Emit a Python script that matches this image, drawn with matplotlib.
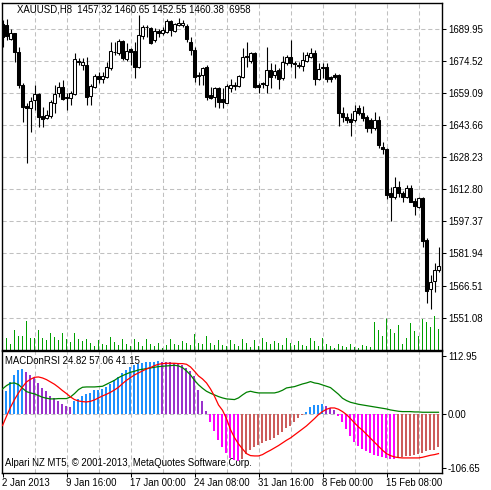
import matplotlib
matplotlib.use("Agg")
import matplotlib.pyplot as plt
import numpy as np

# ---------------- data ----------------
opens = [1692.12, 1691.63, 1684.75, 1687.63, 1678.83, 1662.82, 1652.74, 1651.62, 1655.62, 1658.50,
         1647.94, 1646.82, 1647.94, 1654.34, 1659.14, 1661.70, 1657.22, 1656.42, 1658.50, 1674.51,
         1672.43, 1672.43, 1657.54, 1661.70, 1667.14, 1665.70, 1666.82, 1671.15, 1678.83, 1678.03,
         1683.95, 1675.31, 1679.95, 1679.15, 1671.63, 1686.51, 1690.51, 1690.35, 1684.43, 1688.91,
         1687.63, 1688.43, 1693.72, 1688.91, 1691.63, 1691.63, 1691.15, 1683.63, 1679.63, 1666.98,
         1667.62, 1671.31, 1658.02, 1657.22, 1661.22, 1655.94, 1654.34, 1661.22, 1662.34, 1662.34,
         1666.82, 1676.75, 1674.35, 1678.35, 1662.82, 1663.94, 1662.82, 1670.03, 1667.62, 1670.03,
         1666.02, 1673.55, 1676.43, 1673.55, 1672.43, 1671.95, 1674.51, 1676.43, 1678.03, 1665.70,
         1671.63, 1671.63, 1666.82, 1667.62, 1667.62, 1649.22, 1647.62, 1646.50, 1646.02, 1651.62,
         1649.22, 1647.30, 1646.02, 1642.33, 1646.02, 1633.21, 1631.93, 1611.12, 1609.20, 1613.68,
         1611.12, 1608.88, 1613.20, 1607.12, 1604.08, 1608.40, 1588.39, 1564.70, 1568.70, 1574.00]
highs = [1694.04, 1694.36, 1689.55, 1687.95, 1681.23, 1663.62, 1654.02, 1657.22, 1662.82, 1658.82,
         1652.42, 1650.82, 1655.62, 1662.82, 1664.42, 1665.22, 1659.14, 1660.10, 1678.03, 1675.63,
         1675.63, 1676.43, 1663.30, 1668.10, 1669.22, 1669.22, 1674.03, 1683.63, 1683.63, 1684.75,
         1684.43, 1682.83, 1680.75, 1683.63, 1696.44, 1691.63, 1691.63, 1690.83, 1690.03, 1689.55,
         1690.51, 1694.52, 1694.04, 1692.76, 1694.84, 1694.04, 1691.96, 1685.71, 1681.23, 1669.22,
         1671.63, 1672.43, 1662.02, 1661.70, 1662.02, 1661.22, 1663.14, 1665.54, 1664.42, 1667.62,
         1680.43, 1683.63, 1678.83, 1678.83, 1663.94, 1664.42, 1681.23, 1673.23, 1672.91, 1670.83,
         1676.75, 1677.23, 1684.43, 1674.35, 1674.03, 1678.83, 1678.83, 1680.43, 1679.63, 1673.23,
         1673.55, 1673.23, 1667.14, 1668.74, 1668.10, 1652.10, 1649.54, 1649.22, 1653.22, 1653.22,
         1652.74, 1648.42, 1646.82, 1650.02, 1647.94, 1635.61, 1632.41, 1614.00, 1618.48, 1616.88,
         1612.08, 1614.80, 1614.80, 1608.40, 1609.20, 1609.20, 1589.19, 1571.58, 1577.18, 1584.87]
lows = [1681.23, 1684.43, 1684.43, 1674.03, 1661.22, 1645.22, 1625.21, 1640.41, 1650.82, 1642.49,
        1642.81, 1646.34, 1646.82, 1649.22, 1657.22, 1655.62, 1650.82, 1653.22, 1658.02, 1672.43,
        1670.03, 1653.22, 1653.22, 1661.22, 1663.62, 1663.94, 1666.02, 1670.03, 1677.23, 1677.23,
        1674.83, 1674.51, 1672.43, 1666.02, 1670.83, 1684.75, 1686.03, 1682.35, 1683.63, 1685.71,
        1686.83, 1687.95, 1686.35, 1688.43, 1691.15, 1690.83, 1683.63, 1677.23, 1664.42, 1662.82,
        1662.82, 1655.62, 1655.94, 1652.42, 1651.62, 1651.62, 1654.02, 1659.62, 1660.42, 1662.02,
        1666.02, 1671.63, 1673.23, 1661.22, 1658.82, 1661.22, 1659.14, 1661.22, 1666.02, 1660.74,
        1665.22, 1672.43, 1671.63, 1666.02, 1670.83, 1669.71, 1674.03, 1675.63, 1662.82, 1665.22,
        1666.02, 1664.42, 1664.42, 1665.70, 1643.13, 1645.22, 1644.42, 1638.33, 1645.22, 1648.42,
        1645.70, 1640.41, 1639.93, 1641.21, 1632.41, 1629.69, 1607.92, 1597.68, 1607.92, 1609.20,
        1606.80, 1608.40, 1606.48, 1600.39, 1603.60, 1584.87, 1558.30, 1555.10, 1563.58, 1573.18]
closes = [1686.03, 1686.35, 1687.63, 1678.83, 1662.82, 1652.42, 1651.62, 1655.14, 1658.34, 1647.62,
          1646.34, 1648.42, 1654.50, 1658.34, 1661.70, 1656.10, 1656.42, 1658.82, 1675.15, 1674.03,
          1673.71, 1657.22, 1662.34, 1667.14, 1665.70, 1667.14, 1671.31, 1679.15, 1678.51, 1684.11,
          1675.63, 1679.15, 1678.83, 1671.31, 1686.83, 1690.83, 1690.83, 1683.15, 1688.91, 1687.63,
          1689.23, 1693.72, 1689.23, 1692.12, 1692.44, 1692.44, 1684.75, 1679.63, 1666.50, 1667.62,
          1670.83, 1657.22, 1656.74, 1661.22, 1654.82, 1654.82, 1662.34, 1662.82, 1662.82, 1667.14,
          1676.43, 1676.11, 1678.35, 1662.02, 1661.70, 1663.30, 1670.03, 1666.50, 1669.71, 1665.70,
          1674.03, 1676.43, 1673.23, 1672.75, 1671.95, 1674.83, 1677.23, 1678.35, 1665.54, 1670.51,
          1670.83, 1665.70, 1665.70, 1666.82, 1649.22, 1647.30, 1646.02, 1645.22, 1650.34, 1649.22,
          1646.82, 1642.01, 1642.01, 1646.02, 1634.01, 1632.09, 1610.00, 1609.20, 1613.68, 1610.80,
          1609.20, 1613.20, 1606.80, 1604.72, 1608.40, 1588.07, 1564.06, 1568.38, 1574.00, 1575.90]
volumes = [3300, 4060, 2080, 6600, 4620, 4620, 9570, 4060, 4060, 6600,
           4060, 3300, 5610, 4290, 3300, 5610, 3630, 2640, 5610, 3630,
           2970, 3630, 2310, 1320, 3300, 1980, 1650, 4290, 2640, 1650,
           3630, 1980, 1320, 3630, 2640, 1320, 3630, 1980, 1320, 2310,
           660, 1650, 3630, 1980, 1650, 2970, 2310, 1650, 5280, 2310,
           1980, 4620, 2310, 1650, 3300, 1650, 1320, 3300, 1980, 1320,
           3630, 2310, 990, 3300, 1320, 3960, 2640, 1980, 2970, 2310,
           1650, 3960, 2310, 1650, 2970, 1650, 1320, 3960, 2970, 1320,
           3960, 1980, 1320, 660, 1980, 1320, 990, 1980, 990, 660,
           1650, 1320, 990, 9240, 6600, 4620, 10560, 6930, 5610, 8250,
           1980, 3960, 8910, 6270, 4620, 10230, 9240, 7590, 11220, 6930]

macd_hist = [28.0, 40.3, 57.1, 70.4, 79.2, 79.6, 74.6, 70.4, 64.3, 55.3,
             46.3, 40.3, 31.3, 28.3, 22.2, 18.0, 14.4, 12.0, 22.2, 26.5,
             31.3, 36.1, 37.3, 42.1, 43.3, 45.1, 48.1, 54.1, 60.1, 66.1,
             73.0, 79.4, 84.2, 87.2, 89.6, 91.4, 92.6, 93.2, 93.8, 94.1,
             93.8, 93.2, 92.6, 92.0, 89.5, 87.8, 83.0, 76.0, 67.0, 42.0,
             23.0, 4.0, -15.6, -31.9, -46.9, -60.1, -71.0, -81.0, -84.0, -85.5,
             -81.8, -72.2, -66.1, -60.7, -57.1, -53.5, -49.9, -46.9, -43.9, -38.5,
             -32.5, -26.5, -21.6, -15.0, -8.4, -3.0, 2.4, 12.0, 15.0, 16.2,
             16.8, 13.2, 10.2, 7.2, -3.6, -15.0, -28.3, -39.7, -50.5, -58.3,
             -63.1, -66.7, -70.9, -73.9, -76.3, -78.1, -79.9, -81.2, -82.4, -78.1,
             -77.5, -77.0, -75.8, -74.6, -72.8, -70.9, -67.9, -66.1, -64.9, -60.7]
green_line = [44.5, 50.5, 54.7, 55.3, 52.3, 45.7, 39.7, 37.3, 35.5, 32.5,
              29.5, 27.7, 26.5, 26.5, 27.1, 27.1, 27.1, 30.1, 36.1, 43.3,
              47.5, 48.1, 48.1, 48.1, 48.7, 49.3, 52.9, 56.5, 60.1, 64.9,
              68.5, 71.6, 74.6, 76.4, 78.8, 80.0, 81.2, 82.4, 83.6, 84.8,
              85.4, 86.0, 86.6, 87.2, 86.0, 83.0, 77.0, 69.8, 60.0, 52.0,
              45.7, 40.3, 36.7, 33.7, 30.7, 28.3, 26.5, 25.9, 25.3, 28.3,
              33.7, 38.5, 40.3, 38.5, 37.3, 37.3, 37.3, 37.3, 37.3, 39.1,
              42.1, 46.3, 47.5, 48.7, 51.1, 53.5, 55.3, 57.7, 55.3, 54.1,
              51.7, 49.3, 46.9, 40.9, 34.9, 27.7, 23.5, 20.4, 18.6, 16.8,
              15.6, 14.4, 13.2, 12.0, 10.8, 9.6, 8.4, 6.6, 5.4, 4.2,
              3.6, 3.6, 3.6, 3.0, 3.0, 2.4, 2.4, 2.4, 2.4, 2.4]
red_line = [-21.6, -4.8, 11.4, 25.3, 37.3, 48.1, 57.1, 61.9, 65.5, 66.1,
            64.3, 61.3, 57.1, 52.9, 47.5, 41.5, 36.1, 30.1, 25.3, 22.8,
            21.6, 21.0, 22.2, 24.7, 28.3, 31.9, 34.9, 38.5, 42.7, 47.5,
            54.1, 60.1, 64.9, 69.8, 73.4, 77.0, 80.6, 83.0, 86.6, 89.0,
            90.2, 90.8, 90.8, 90.8, 90.2, 90.2, 89.0, 84.2, 76.4, 68.0,
            62.5, 55.3, 44.5, 31.3, 15.6, 6.0, -9.0, -28.9, -43.3, -54.7,
            -63.7, -72.2, -75.8, -76.4, -76.4, -74.0, -69.8, -66.1, -61.9, -57.7,
            -52.9, -48.1, -43.9, -38.5, -33.1, -27.7, -22.2, -15.6, -9.0, -1.8,
            3.6, 7.8, 10.2, 10.2, 7.8, 3.6, -1.8, -9.0, -16.8, -24.1,
            -30.1, -37.3, -44.5, -51.7, -58.9, -66.1, -72.2, -75.8, -78.2, -79.4,
            -80.0, -80.0, -80.0, -80.0, -80.0, -78.8, -77.0, -75.2, -74.0, -72.2]

price_ticks = [1689.95, 1674.52, 1659.09, 1643.66, 1628.23, 1612.80, 1597.37, 1581.94, 1566.51, 1551.08]
price_tick_labels = ["1689.95", "1674.52", "1659.09", "1643.66", "1628.23",
                     "1612.80", "1597.37", "1581.94", "1566.51", "1551.08"]
ind_tick_labels = ["112.95", "0.00", "-106.65"]
ind_scale_max, ind_scale_min = 112.95, -106.65
date_labels = ["2 Jan 2013", "9 Jan 16:00", "17 Jan 00:00", "24 Jan 08:00",
               "31 Jan 16:00", "8 Feb 00:00", "15 Feb 08:00"]
header_text = "XAUUSD,H8  1457.32 1460.65 1452.55 1460.38  6958"
ind_text = "MACDonRSI 24.82 57.06 41.15"
copyright_text = "Alpari NZ MT5, \u00a9 2001-2013, MetaQuotes Software Corp."

# ---------------- layout ----------------
W, H = 491, 490
FONT = "Liberation Sans"
FS = 6.9
plt.rcParams['font.family'] = [FONT, 'DejaVu Sans']

fig = plt.figure(figsize=(W / 100, H / 100), dpi=100, facecolor='white')

px_left, px_right = 2, 442
top1, bot1 = 3, 350
top2, bot2 = 351, 472.7
ax1 = fig.add_axes([px_left / W, 1 - bot1 / H, (px_right - px_left) / W, (bot1 - top1) / H])
ax2 = fig.add_axes([px_left / W, 1 - bot2 / H, (px_right - px_left) / W, (bot2 - top2) / H])

n = len(closes)
x = np.arange(n)
xlim = (-0.125, 109.875)
grid_kw = dict(color='#c0c0c0', linewidth=0.75, linestyle=(0, (4, 2.7)), zorder=0.5)

# ---------- main chart ----------
ax1.set_xlim(*xlim)
ax1.set_ylim(1535.6, 1702.2)

for p in price_ticks:
    ax1.axhline(p, **grid_kw)
for g in range(8, n, 8):
    ax1.axvline(g, **grid_kw)

# volumes (own scale, anchored at the bottom)
axv = ax1.twinx()
axv.set_ylim(0, max(volumes) * 10.2)
axv.set_xlim(*xlim)
axv.bar(x, volumes, width=0.3, color='#00a000', linewidth=0, antialiased=False)
axv.axis('off')

o = np.array(opens); c = np.array(closes); h = np.array(highs); l = np.array(lows)
ax1.vlines(x, l, h, color='black', linewidth=0.8, zorder=2)
up = c >= o
body_lo = np.minimum(o, c)
body_h = np.maximum(np.abs(c - o), 0.25)
ax1.bar(x[up], body_h[up], bottom=body_lo[up], width=0.6, facecolor='white',
        edgecolor='black', linewidth=0.75, zorder=3)
ax1.bar(x[~up], body_h[~up], bottom=body_lo[~up], width=0.6, facecolor='black',
        edgecolor='black', linewidth=0.75, zorder=3)

ax1.set_zorder(axv.get_zorder() + 1)
ax1.patch.set_visible(False)

ax1.yaxis.tick_right()
ax1.set_yticks(price_ticks)
ax1.set_yticklabels(price_tick_labels)
ax1.tick_params(axis='y', direction='out', length=3, width=0.75, pad=1.2, labelsize=FS, colors='black')
ax1.set_xticks([])
for s in ax1.spines.values():
    s.set_linewidth(1.0)
    s.set_color('black')

fig.text(17 / W, 1 - 9.5 / H, header_text, fontsize=FS, va='center', ha='left', color='black')

# ---------- indicator ----------
ax2.set_xlim(*xlim)
ax2.set_ylim(ind_scale_min, ind_scale_max)
for g in range(8, n, 8):
    ax2.axvline(g, **grid_kw)
ax2.axhline(0, **grid_kw)

hist = np.array(macd_hist)
prev = np.concatenate([[hist[0]], hist[:-1]])
colors = []
for v, pv in zip(hist, prev):
    if v >= 0:
        colors.append('#1e90ff' if v >= pv else '#9932cc')
    else:
        colors.append('#ff00ff' if v < pv else '#cd5c5c')
ax2.bar(x - 0.2, hist, width=0.55, color=colors, linewidth=0, zorder=2, antialiased=False)
ax2.plot(x, green_line, color='#008000', linewidth=0.9, zorder=3)
ax2.plot(x, red_line, color='#ff0000', linewidth=0.9, zorder=3)

# y labels slightly inset from the panel edges, as in the terminal
per_px = (ind_scale_max - ind_scale_min) / (bot2 - top2)
ind_tick_pos = [ind_scale_max - 5 * per_px, 0.0, ind_scale_min + 4.4 * per_px]
ax2.yaxis.tick_right()
ax2.set_yticks(ind_tick_pos)
ax2.set_yticklabels(ind_tick_labels)
ax2.tick_params(axis='y', direction='out', length=3, width=0.75, pad=1.2, labelsize=FS, colors='black')

ax2.set_xticks(list(range(0, n, 16)))
ax2.set_xticklabels(date_labels)
ax2.tick_params(axis='x', direction='out', length=3, width=0.75, pad=0.8, labelsize=FS, colors='black')
for lab in ax2.get_xticklabels():
    lab.set_horizontalalignment('left')
for s in ax2.spines.values():
    s.set_linewidth(1.0)
    s.set_color('black')

ax2.text((5 - px_left) / (px_right - px_left), 1 - (360.7 - top2) / (bot2 - top2), ind_text,
         transform=ax2.transAxes, fontsize=FS, va='center', ha='left', zorder=4)
ax2.text((5 - px_left) / (px_right - px_left), 1 - (462.7 - top2) / (bot2 - top2), copyright_text,
         transform=ax2.transAxes, fontsize=FS, va='center', ha='left', zorder=1)

fig.savefig("out.png", dpi=100, facecolor='white')
